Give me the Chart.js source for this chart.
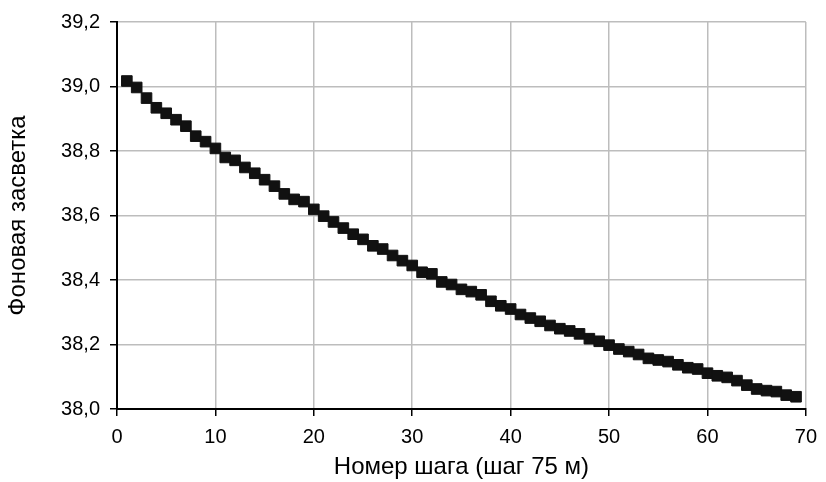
<!DOCTYPE html>
<html>
<head>
<meta charset="utf-8">
<script src="https://cdn.jsdelivr.net/npm/chart.js@4"></script>
<style>
  html, body { margin: 0; padding: 0; background: #fff; }
  #wrap { width: 826px; height: 482px; }
</style>
</head>
<body>
<div id="wrap"><canvas id="chart" width="826" height="482"></canvas></div>
<script>
// step numbers (x) and background glare values (y)
const steps = [
  1, 2, 3, 4, 5, 6, 7, 8, 9, 10,
  11, 12, 13, 14, 15, 16, 17, 18, 19, 20,
  21, 22, 23, 24, 25, 26, 27, 28, 29, 30,
  31, 32, 33, 34, 35, 36, 37, 38, 39, 40,
  41, 42, 43, 44, 45, 46, 47, 48, 49, 50,
  51, 52, 53, 54, 55, 56, 57, 58, 59, 60,
  61, 62, 63, 64, 65, 66, 67, 68, 69
];
const glare = [
  39.017, 38.997, 38.964, 38.934, 38.917, 38.897, 38.877, 38.846, 38.829, 38.808,
  38.780, 38.771, 38.749, 38.731, 38.711, 38.691, 38.667, 38.650, 38.643, 38.619,
  38.598, 38.580, 38.561, 38.542, 38.526, 38.506, 38.496, 38.476, 38.460, 38.445,
  38.424, 38.419, 38.394, 38.386, 38.371, 38.364, 38.354, 38.334, 38.320, 38.310,
  38.293, 38.282, 38.272, 38.259, 38.249, 38.242, 38.233, 38.218, 38.210, 38.198,
  38.186, 38.178, 38.169, 38.157, 38.152, 38.147, 38.137, 38.128, 38.124, 38.111,
  38.103, 38.098, 38.088, 38.074, 38.062, 38.057, 38.054, 38.043, 38.038
];
const xTicks = [0, 10, 20, 30, 40, 50, 60, 70];
const yTicks = [38.0, 38.2, 38.4, 38.6, 38.8, 39.0, 39.2];

const xTitle = 'Номер шага (шаг 75 м)';
const yTitle = 'Фоновая засветка';

const tickFont = { family: '"Liberation Sans", Arial, sans-serif', size: 20 };
const titleFont = { family: '"Liberation Sans", Arial, sans-serif', size: 24 };

new Chart(document.getElementById('chart'), {
  type: 'scatter',
  data: {
    datasets: [{
      data: steps.map((s, i) => ({ x: s, y: glare[i] })),
      pointStyle: 'rect',
      pointRadius: 7.5,
      pointHoverRadius: 7.5,
      backgroundColor: '#111',
      borderColor: '#111',
      borderWidth: 1,
      showLine: false
    }]
  },
  options: {
    responsive: false,
    animation: false,
    layout: { padding: { top: 19, right: 16, left: 0, bottom: 0 } },
    plugins: { legend: { display: false }, tooltip: { enabled: false } },
    scales: {
      x: {
        type: 'linear',
        min: 0, max: 70,
        afterBuildTicks: s => { s.ticks = xTicks.map(v => ({ value: v })); },
        afterFit: s => { s.height = 73; },
        ticks: { font: tickFont, color: '#000', padding: 9 },
        grid: { color: '#bdbdbd', lineWidth: 1.5, tickColor: '#000', tickLength: 7 },
        border: { color: '#000', width: 2 },
        title: { display: true, text: xTitle, font: titleFont, color: '#000', padding: { top: 0, bottom: 0 } }
      },
      y: {
        type: 'linear',
        min: 38.0, max: 39.2,
        afterBuildTicks: s => { s.ticks = yTicks.map(v => ({ value: v })); },
        afterFit: s => { s.width = 117; },
        ticks: {
          font: tickFont, color: '#000', padding: 10,
          callback: v => v.toFixed(1).replace('.', ',')
        },
        grid: { color: '#bdbdbd', lineWidth: 1.5, tickColor: '#000', tickLength: 7 },
        border: { color: '#000', width: 2 },
        title: { display: true, text: yTitle, font: titleFont, color: '#000', padding: { bottom: 0, top: 4 } }
      }
    }
  }
});
</script>
</body>
</html>
